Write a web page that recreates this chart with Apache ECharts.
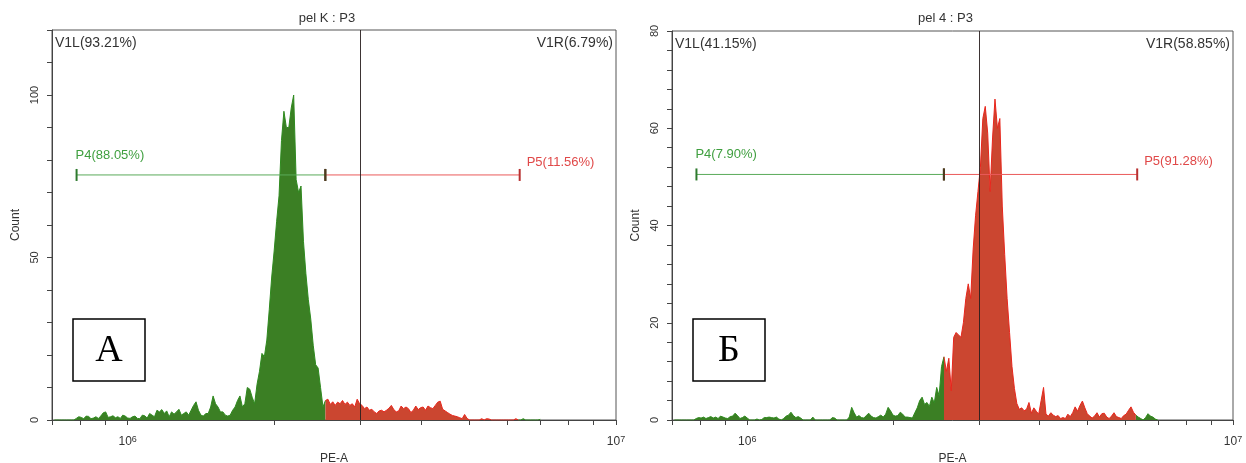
<!DOCTYPE html>
<html>
<head>
<meta charset="utf-8">
<script src="https://cdn.jsdelivr.net/npm/echarts@6/dist/echarts.min.js"></script>
<style>html,body{margin:0;padding:0;background:#fff}#c{width:1246px;height:463px}</style>
</head>
<body>
<div id="c"></div>
<script>
// Histogram channels: log10(PE-A) of first channel and channel width (decades)
const binStartLog = 5.85;
const binStepLog = 0.005;

// Panel A (pel K) counts per channel
const leftCounts = [
  0,0,0,0,0,0,0,0,0,0.5,1,0.8,0.4,1.2,1.1,0.4,0.6,1,0.5,1.2,
  2.2,2.5,0.8,1,1.3,0.7,1,0.5,1.5,1.2,0.6,0.5,1,1.2,0.5,0.4,1.5,1.3,0.6,2,
  1.5,1,3,2.5,3.2,2,2.8,1,2.5,1.8,2.5,3.3,1.5,2,2.5,1.5,3,4.5,5.6,3,
  1.5,1.2,2,2,4,7.4,5,4,2.5,2.5,1.5,1.2,1.5,3,4,6,7.4,4,5,10,
  9.5,7,5,11,15,20.5,19.5,24.6,34,44,52,61,69,86,95,90,90,96,100,74,
  70,72,55,45,37,31,23,17,16,10,4,6,6.4,4.8,5.6,4.5,5.5,5,6,4.8,
  5.5,4.5,5,4,6.4,5,4.5,3.5,4,3,3.3,2.5,2,2.8,3,2.5,3,3.6,4.5,3.2,
  2.5,2.8,4.3,3.5,4,3.5,2.3,3,4.3,3.2,3.8,4,3,4.3,3.8,3.5,4.5,5.5,5.8,3.3,
  2.8,2.3,1.8,1.4,1.2,1,0.7,0.4,1.7,0.5,0,0,0,0,0,0.4,0,0.4,0.3,0,
  0,0,0,0,0,0,0,0,0,0.4,0,0,0.4,0,0,0,0,0,0,0.2
];

// Panel Б (pel 4) counts per channel
const rightCounts = [
  0,0,0,0,0,0,0,0,0,0.3,0.5,0.4,0.6,0.3,0.5,0.7,0.4,0.6,0.3,0.8,
  0.6,0.4,0.3,0.7,0.8,1.4,0.9,0.3,0.5,0.8,0.4,0,0,0,0.2,0,0.1,0.5,0.5,0.6,
  0.5,0.4,0.6,0.2,0,0.3,0.8,1,1.6,0.9,0.5,0.7,0.4,0,0,0,0,0.6,0,0,
  0,0,0,0,0,0.5,0.4,0,0,0,0,0,0.6,2.6,1.5,0.6,0.9,0.5,0.4,0.9,
  1.4,0.8,0.5,0.4,0.7,1,0.6,1.2,2.6,1.9,1,0.8,0.9,1.6,1.2,0.6,0.6,0.5,0.4,1.5,
  2.5,4,4.7,3.2,3.6,2.8,4.7,3.5,6.7,5,11,13,10,12.7,6,17,18,17.5,17,20,
  25,28,25,35,42,47,52,62,64.5,59,47,58,66,60,62,44,34,25,18,11,
  6.5,3.4,2.2,2.5,1.9,2.2,3.6,1.4,2.5,1.8,1.2,4,6.7,1.2,0.8,1.5,1,0.7,0.9,0.3,
  0.5,0.3,1.2,0.7,1.5,2.7,1.8,3,3.9,2.5,1.3,0.8,0.4,0.8,1.5,0.6,1.3,1.4,0.6,0.3,
  0.8,1.5,0.7,0.5,0.3,0.9,1.2,2,2.7,1.6,1,0.6,0.3,0,0.5,1.3,0.8,0.6,0.2,0
];

const panelTitles = ['pel K : P3', 'pel 4 : P3'];
const panelLetters = ['А', 'Б'];
const v1lLabels = ['V1L(93.21%)', 'V1L(41.15%)'];
const v1rLabels = ['V1R(6.79%)', 'V1R(58.85%)'];
const p4Labels = ['P4(88.05%)', 'P4(7.90%)'];
const p5Labels = ['P5(11.56%)', 'P5(91.28%)'];
const p4Gate = [7.86e5, 2.54e6];
const p5Gate = [2.54e6, 6.35e6];
const gateLevels = [75.4, 50.5];
const v1Divider = 3e6;
const yMaxes = [120, 80];
const yTickSteps = [10, 4];
const yLabelSteps = [50, 20];
const xMin = 7e5, xMax = 1e7;
const xTickValues = [7e5, 8e5, 9e5, 1e6, 2e6, 3e6, 4e6, 5e6, 6e6, 7e6, 8e6, 9e6, 1e7];
const xLabelValues = [1e6, 1e7];

const grids = [
  {left: 52, top: 30, width: 564, height: 390},
  {left: 672, top: 31, width: 561, height: 389}
];

const FONT = '"Liberation Sans", Arial, sans-serif';
const GREEN_FILL = '#3b7f24', GREEN_LINE = '#2f8a1f';
const RED_FILL = '#cb4630', RED_LINE = '#e8261c';

const countsByPanel = [leftCounts, rightCounts];
const series = [];
const xAxes = [], yAxes = [];
const graphics = [];

function hist(p, data, fill, line) {
  return {
    type: 'line', xAxisIndex: p, yAxisIndex: p, data: data,
    symbol: 'none', silent: true, z: 2,
    lineStyle: {color: line, width: 1},
    areaStyle: {color: fill, opacity: 1}
  };
}

for (let p = 0; p < 2; p++) {
  const g = grids[p];
  const pts = countsByPanel[p].map((c, i) => [Math.pow(10, binStartLog + i * binStepLog), c]);
  let first = pts.findIndex(q => q[0] >= p5Gate[0]);
  let last = -1;
  pts.forEach((q, i) => { if (q[0] <= p5Gate[1]) last = i; });
  series.push(hist(p, pts.slice(0, first + 1), GREEN_FILL, GREEN_LINE));
  series.push(hist(p, pts.slice(last), GREEN_FILL, GREEN_LINE));
  series.push(hist(p, pts.slice(first, last + 1), RED_FILL, RED_LINE));

  const lvl = gateLevels[p];
  series.push({
    type: 'line', xAxisIndex: p, yAxisIndex: p, silent: true, z: 4,
    symbol: 'rect', symbolSize: [2, 12],
    lineStyle: {color: '#5aaa5a', width: 1},
    itemStyle: {color: '#2e7a2e'},
    data: [
      {value: [p4Gate[0], lvl], label: {show: true, formatter: p4Labels[p], position: [0, -14], align: 'left', verticalAlign: 'middle', color: '#3f9f3f', fontSize: 13, fontFamily: FONT}},
      {value: [p4Gate[1], lvl], itemStyle: {color: '#4d3b1f'}}
    ]
  });
  series.push({
    type: 'line', xAxisIndex: p, yAxisIndex: p, silent: true, z: 4,
    symbol: 'rect', symbolSize: [2, 12],
    lineStyle: {color: '#ea5a5a', width: 1},
    itemStyle: {color: '#b83030'},
    data: [
      {value: [p5Gate[0], lvl], itemStyle: {color: '#4d3b1f'}},
      {value: [p5Gate[1], lvl], label: {show: true, formatter: p5Labels[p], position: [8, -7], align: 'left', verticalAlign: 'middle', color: '#e04848', fontSize: 13, fontFamily: FONT}}
    ],
    markLine: {
      silent: true, symbol: ['none', 'none'], animation: false,
      lineStyle: {color: 'rgba(40,30,30,0.9)', width: 1, type: 'solid'},
      label: {show: false},
      data: [{xAxis: v1Divider}]
    }
  });

  xAxes.push({
    type: 'log', logBase: 10, gridIndex: p, min: xMin, max: xMax,
    name: 'PE-A', nameLocation: 'middle', nameGap: 30,
    nameTextStyle: {fontSize: 12, color: '#333', fontFamily: FONT},
    axisLine: {show: true, lineStyle: {color: '#444', width: 1}},
    axisTick: {show: true, customValues: xTickValues, length: 5, lineStyle: {color: '#444'}},
    axisLabel: {
      customValues: xLabelValues, margin: 15, color: '#333',
      formatter: v => '{b|10}{s|' + Math.round(Math.log10(v)) + '}',
      rich: {
        b: {fontSize: 12, lineHeight: 14, fontFamily: FONT, color: '#333'},
        s: {fontSize: 9, lineHeight: 6, fontFamily: FONT, color: '#333', verticalAlign: 'top'}
      }
    },
    splitLine: {show: false}
  });
  yAxes.push({
    type: 'value', gridIndex: p, min: 0, max: yMaxes[p], interval: yTickSteps[p],
    name: 'Count', nameLocation: 'middle', nameGap: 30, nameRotate: 90,
    nameTextStyle: {fontSize: 12, color: '#333', fontFamily: FONT},
    axisLine: {show: true, lineStyle: {color: '#444', width: 1}},
    axisTick: {show: true, length: 5, lineStyle: {color: '#444'}},
    axisLabel: {
      rotate: 90, margin: 12, fontSize: 11, color: '#333', fontFamily: FONT,
      formatter: v => (v % yLabelSteps[p] === 0 ? String(v) : '')
    },
    splitLine: {show: false}
  });

  graphics.push({type: 'text', x: g.left + g.width / 2 - 7, y: 18, z: 100,
    style: {text: panelTitles[p], font: '13px ' + FONT, fill: '#333', align: 'center', verticalAlign: 'middle'}});
  graphics.push({type: 'text', x: g.left + 3, y: g.top + 13, z: 100,
    style: {text: v1lLabels[p], font: '14px ' + FONT, fill: '#333', align: 'left', verticalAlign: 'middle'}});
  graphics.push({type: 'text', x: g.left + g.width - 3, y: g.top + 13, z: 100,
    style: {text: v1rLabels[p], font: '14px ' + FONT, fill: '#333', align: 'right', verticalAlign: 'middle'}});
  graphics.push({type: 'rect', z: 100, shape: {x: g.left + 21, y: 319, width: 72, height: 62},
    style: {fill: '#fff', stroke: '#000', lineWidth: 1.5}});
  graphics.push({type: 'text', x: g.left + 57, y: 351, z: 101,
    style: {text: panelLetters[p], font: '38px "Liberation Serif", "Times New Roman", serif', fill: '#000', align: 'center', verticalAlign: 'middle'}});
}

const chart = echarts.init(document.getElementById('c'), null, {renderer: 'canvas'});
chart.setOption({
  animation: false,
  backgroundColor: '#fff',
  grid: grids.map(g => Object.assign({show: true, borderColor: '#555', borderWidth: 1, containLabel: false, outerBoundsMode: 'none'}, g)),
  xAxis: xAxes,
  yAxis: yAxes,
  series: series,
  graphic: graphics
});
</script>
</body>
</html>
